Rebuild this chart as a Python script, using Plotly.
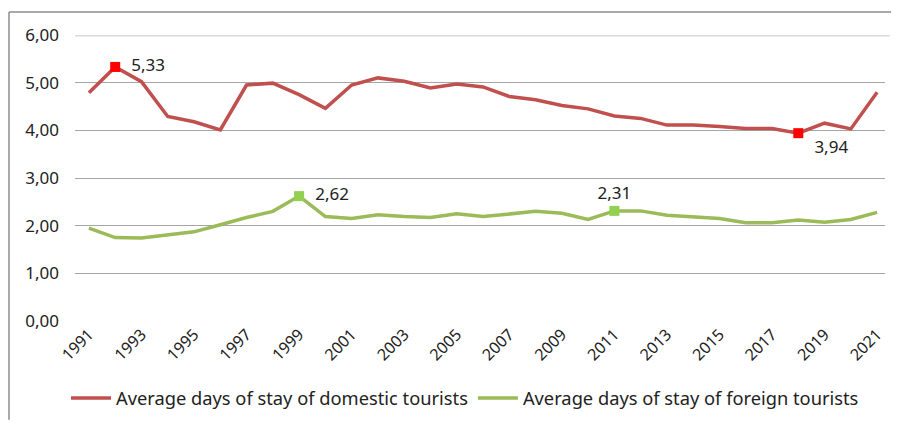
import plotly.graph_objects as go

years = list(range(1991, 2022))
domestic = [4.79, 5.33, 5.02, 4.29, 4.18, 4.01, 4.95, 4.99, 4.75, 4.46,
            4.95, 5.10, 5.03, 4.89, 4.97, 4.91, 4.71, 4.64, 4.52, 4.45,
            4.30, 4.25, 4.11, 4.11, 4.08, 4.04, 4.04, 3.94, 4.15, 4.03, 4.80]
foreign = [1.95, 1.75, 1.74, 1.80, 1.87, 2.02, 2.17, 2.30, 2.62, 2.19,
           2.15, 2.23, 2.19, 2.17, 2.25, 2.19, 2.25, 2.30, 2.26, 2.13,
           2.31, 2.31, 2.22, 2.18, 2.15, 2.06, 2.06, 2.12, 2.07, 2.13, 2.28]
dom_name = "Average days of stay of domestic tourists"
for_name = "Average days of stay of foreign tourists"
dom_marked = [1992, 2018]
for_marked = [1999, 2011]
y_ticks = [0, 1, 2, 3, 4, 5, 6]
x_ticks = list(range(1991, 2022, 2))

RED_LINE = "#C0504D"
RED_MARK = "#FF0000"
GREEN_LINE = "#9BBB59"
GREEN_MARK = "#92D050"
FONT = "Noto Sans"
TXT = "#222222"

W, H = 883, 413   # page body has an 8px margin on every side
L, R, T, B = 67, 6, 27, 99
PW, PH = W - L - R, H - T - B

fig = go.Figure()
fig.add_trace(go.Scatter(x=years, y=domestic, mode="lines", name=dom_name,
                         line=dict(color=RED_LINE, width=3.5)))
fig.add_trace(go.Scatter(x=years, y=foreign, mode="lines", name=for_name,
                         line=dict(color=GREEN_LINE, width=3.5)))

dm_y = [domestic[years.index(y)] for y in dom_marked]
fm_y = [foreign[years.index(y)] for y in for_marked]
fig.add_trace(go.Scatter(x=dom_marked, y=dm_y, mode="markers+text", showlegend=False,
                         marker=dict(symbol="square", size=10, color=RED_MARK),
                         texttemplate=["  %{y:.2f}", "  %{y:.2f}"],
                         textposition=["middle right", "bottom right"],
                         textfont=dict(family=FONT, size=17, color=TXT)))
fig.add_trace(go.Scatter(x=for_marked, y=fm_y, mode="markers+text", showlegend=False,
                         marker=dict(symbol="square", size=10, color=GREEN_MARK),
                         texttemplate=["  %{y:.2f}", "%{y:.2f}"],
                         textposition=["middle right", "top center"],
                         textfont=dict(family=FONT, size=17, color=TXT)))

fig.update_layout(
    width=W, height=H,
    margin=dict(l=L, r=R, t=T, b=B),
    paper_bgcolor="white", plot_bgcolor="white",
    separators=",.",
    font=dict(family=FONT, size=17, color=TXT),
    legend=dict(orientation="h", x=(58 - L) / PW, y=(PH + T - 390) / PH,
                xanchor="left", yanchor="middle",
                font=dict(family=FONT, size=18.3, color=TXT), itemwidth=40,
                traceorder="normal"),
    xaxis=dict(range=[1990.47, 2021.3], tickvals=x_ticks, tickangle=-45,
               showgrid=False, zeroline=False, showline=False, ticks="",
               automargin=False,
               tickfont=dict(family=FONT, size=16, color=TXT)),
    yaxis=dict(range=[0, 6], tickvals=y_ticks, tickformat=".2f",
               showgrid=True, gridcolor="#A6A6A6", gridwidth=1, zeroline=False,
               showline=False, ticks="", ticklabelstandoff=15, automargin=False,
               tickfont=dict(family=FONT, size=17, color=TXT)),
    shapes=[
        dict(type="line", xref="paper", yref="y", x0=0, x1=1.006, y0=6, y1=6,
             line=dict(color="#DADADA", width=3), layer="above"),
        # frame: top and left edges (right and bottom lie outside the picture)
        dict(type="line", xref="paper", yref="paper",
             x0=(1 - L) / PW, x1=(W - L) / PW,
             y0=(PH + T - 4) / PH, y1=(PH + T - 4) / PH,
             line=dict(color="#8C8C8C", width=1.5)),
        dict(type="line", xref="paper", yref="paper",
             x0=(1 - L) / PW, x1=(1 - L) / PW,
             y0=(PH + T - H) / PH, y1=(PH + T - 4) / PH,
             line=dict(color="#8C8C8C", width=1.5)),
    ],
)

fig.write_html("out.html", config={"displayModeBar": False})
